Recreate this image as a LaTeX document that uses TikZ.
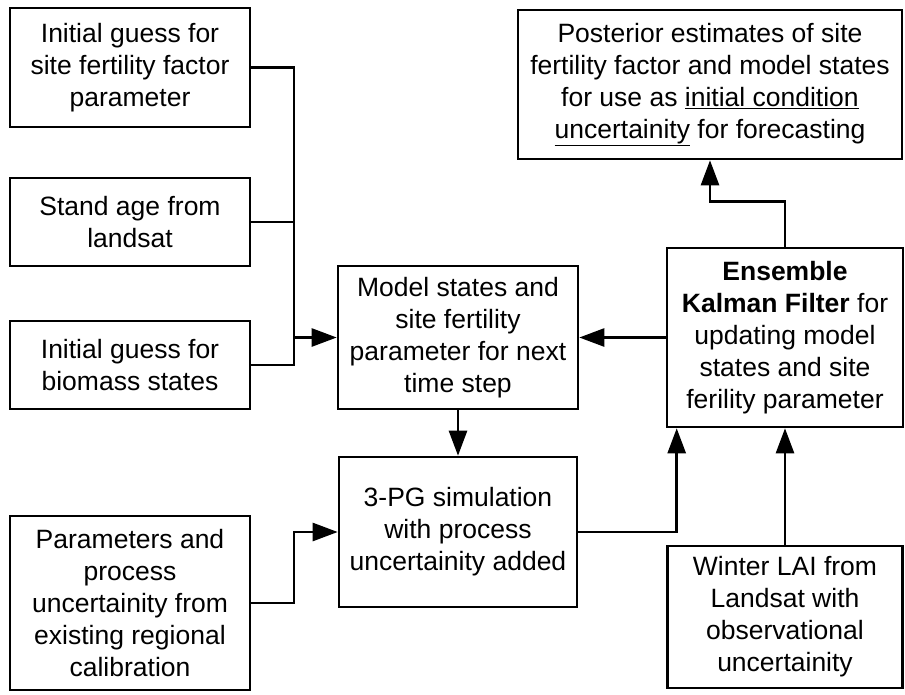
\documentclass[tikz,border=0pt]{standalone}
\usepackage{fontspec}
\setmainfont{Liberation Sans}
\usetikzlibrary{arrows.meta}
\begin{document}
\begin{tikzpicture}[x=1pt, y=-1pt,
	box/.style={shape=rectangle, draw=black, line width=2.6pt, align=center, inner sep=0pt, font=\fontsize{26.5}{32}\selectfont},
	arr/.style={-{Triangle[length=25pt, width=18pt]}, line width=2.6pt},
	wire/.style={-, line width=2.6pt}]
	\useasboundingbox (0,0) rectangle (905,694);

	\node[box, minimum width=240pt, minimum height=119pt] (guessSF)  at (130,67.5)  {Initial guess for\\site fertility factor\\parameter};
	\node[box, minimum width=240pt, minimum height=88pt]  (standAge) at (130,222)   {Stand age from\\landsat};
	\node[box, minimum width=240pt, minimum height=88pt]  (guessBio) at (130,365)   {Initial guess for\\biomass states};
	\node[box, minimum width=240pt, minimum height=174pt] (params)   at (130,603)   {Parameters and\\process\\uncertainity from\\existing regional\\calibration};
	\node[box, minimum width=240pt, minimum height=143pt] (model)    at (458,337.5) {Model states and\\site fertility\\parameter for next\\time step};
	\node[box, minimum width=238pt, minimum height=150pt] (sim)      at (458,532)   {3-PG simulation\\with process\\uncertainity added};
	\node[box, minimum width=236pt, minimum height=179pt] (enkf)     at (785,337.5) {\textbf{Ensemble}\\\textbf{Kalman Filter} for\\updating model\\states and site\\ferility parameter};
	\node[box, minimum width=384pt, minimum height=149pt] (post)     at (710,84.5)  {Posterior estimates of site\\fertility factor and model states\\for use as \underline{initial condition}\\\underline{uncertainity} for forecasting};
	\node[box, minimum width=235pt, minimum height=142pt] (winter)   at (785,617)   {Winter LAI from\\Landsat with\\observational\\uncertainity};

	\coordinate (bus) at (294,337.5);

	\draw[wire] (guessSF.east)  -| (bus);
	\draw[wire] (guessBio.east) -| (bus);
	\draw[wire] (standAge.east) -- (standAge.east -| bus);
	\draw[arr]  (bus) -- (model.west);
	\draw[arr]  (model.south) -- (sim.north);
	\draw[arr]  (params.east) -- (params.east -| bus) |- (sim.west);
	\draw[arr]  (sim.east) -| ([xshift=11pt]enkf.south west);
	\draw[arr]  (winter.north) -- (enkf.south);
	\draw[arr]  (enkf.west) -- (model.east);
	\draw[arr]  (enkf.north) -- ++(0,-45) -| (post.south);
\end{tikzpicture}
\end{document}
